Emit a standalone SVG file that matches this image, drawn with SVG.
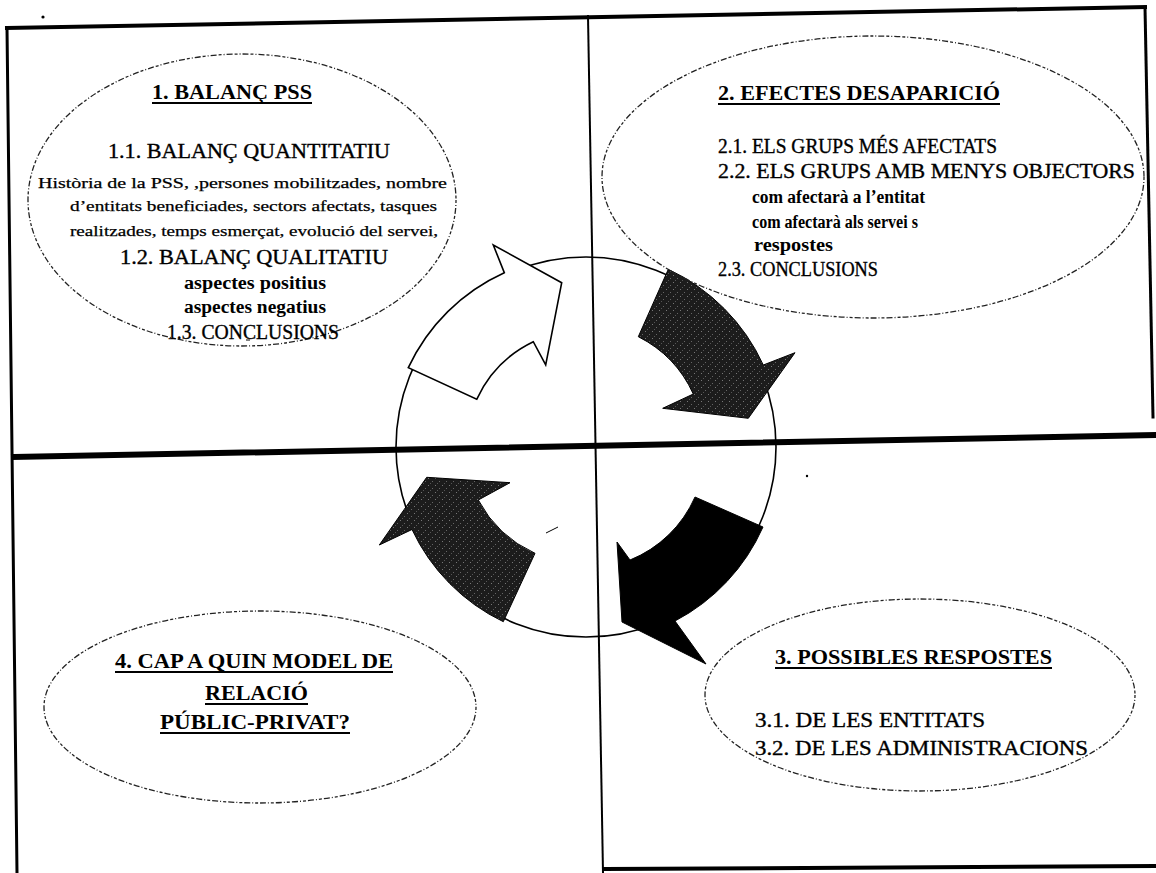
<svg xmlns="http://www.w3.org/2000/svg" width="1156" height="873" viewBox="0 0 1156 873">
<defs>
  <pattern id="grain" width="7" height="7" patternUnits="userSpaceOnUse">
    <rect width="7" height="7" fill="#1c1c1c"/>
    <rect x="1" y="2" width="1" height="1" fill="#777"/>
    <rect x="5" y="5" width="1" height="1" fill="#666"/>
    <rect x="3" y="0" width="1" height="1" fill="#555"/>
  </pattern>
</defs>
<style>
  .frame { stroke: #000; fill: none; stroke-linecap: square; }
  .oval { fill: none; stroke: #222; stroke-width: 1.3; stroke-dasharray: 3 2 1 2 6 2; }
  .t { font-family: "Liberation Serif", "Times New Roman", serif; fill: #000; }
  .h { font-weight: bold; font-size: 20px; }
  .big { font-size: 20px; stroke: #000; stroke-width: 0.35; }
  .sm { font-size: 15px; stroke: #000; stroke-width: 0.25; }
  .b { font-weight: bold; font-size: 18px; }
  .ul { stroke: #000; stroke-width: 1.8; }
  .ring { fill: none; stroke: #000; stroke-width: 1.6; }
  .arr-w { fill: #fff; stroke: #000; stroke-width: 1.6; stroke-linejoin: miter; }
  .arr-d { fill: url(#grain); stroke: #000; stroke-width: 1; }
  .arr-k { fill: #000; stroke: #000; stroke-width: 1; }
  .speck { fill: #000; }
</style>
<rect width="1156" height="873" fill="#fff"/>

<g id="frame">
  <line class="frame" x1="7" y1="28" x2="1145" y2="7" stroke-width="4"/>
  <line class="frame" x1="7" y1="28" x2="17" y2="873" stroke-width="3"/>
  <line class="frame" x1="1145" y1="7" x2="1153" y2="417" stroke-width="3"/>
  <line class="frame" x1="14" y1="457" x2="1156" y2="435" stroke-width="6"/>
  <line class="frame" x1="588" y1="16" x2="603" y2="873" stroke-width="2"/>
  <line class="frame" x1="605" y1="869" x2="1156" y2="866" stroke-width="4"/>
</g>

<g id="cycle">
  <circle class="ring" cx="586" cy="447" r="190"/>
</g>

<g id="connectors">
  <path id="arrow-1-2" class="arr-w" d="M408.3,367.7 A194,194 0 0 1 504.3,272.7 L493.3,245 L561.7,282.7 L545.7,365 L533.3,341.7 A119,119 0 0 0 476.7,399.3 Z"/>
  <path id="arrow-2-3" class="arr-d" d="M668.3,269.3 A195,195 0 0 1 763.3,365 L795,352.7 L748.3,418.3 L662.7,408.3 L693.3,394 A120,120 0 0 0 638.3,336.7 Z"/>
  <path id="arrow-3-4" class="arr-k" d="M695,497 L763,527 A195,195 0 0 1 675,621 L706,664 L622,622 L617,542 L630,560 A120,120 0 0 0 695,497 Z"/>
  <path id="arrow-4-1" class="arr-d" d="M535,553.3 L503.3,621.7 A193,193 0 0 1 412,529.5 L379.3,545 L426.7,477.3 L510,482.7 L478.3,500 A120,120 0 0 0 535,553.3 Z"/>
</g>

<g id="node-1-balanc">
  <ellipse class="oval" cx="242" cy="200" rx="214" ry="146"/>
  <text class="t h" x="152" y="99" textLength="160" lengthAdjust="spacingAndGlyphs">1. BALANÇ PSS</text>
  <line class="ul" x1="152" y1="103" x2="312" y2="103"/>
  <text class="t big" x="108" y="158" textLength="282" lengthAdjust="spacingAndGlyphs">1.1. BALANÇ QUANTITATIU</text>
  <text class="t sm" x="38" y="188" textLength="409" lengthAdjust="spacingAndGlyphs">Història de la PSS, ,persones mobilitzades, nombre</text>
  <text class="t sm" x="70" y="211" textLength="367" lengthAdjust="spacingAndGlyphs">d’entitats beneficiades, sectors afectats,  tasques</text>
  <text class="t sm" x="70" y="236" textLength="368" lengthAdjust="spacingAndGlyphs">realitzades, temps esmerçat, evolució del servei,</text>
  <text class="t big" x="120" y="264" textLength="268" lengthAdjust="spacingAndGlyphs">1.2. BALANÇ QUALITATIU</text>
  <text class="t b" x="184" y="289" textLength="142" lengthAdjust="spacingAndGlyphs">aspectes positius</text>
  <text class="t b" x="184" y="313" textLength="142" lengthAdjust="spacingAndGlyphs">aspectes negatius</text>
  <text class="t big" x="167" y="339" textLength="172" lengthAdjust="spacingAndGlyphs">1.3. CONCLUSIONS</text>
</g>

<g id="node-2-efectes">
  <ellipse class="oval" cx="873" cy="177" rx="271" ry="141"/>
  <text class="t h" x="718" y="100" textLength="282" lengthAdjust="spacingAndGlyphs">2. EFECTES  DESAPARICIÓ</text>
  <line class="ul" x1="718" y1="104" x2="1000" y2="104"/>
  <text class="t big" x="718" y="153" textLength="279" lengthAdjust="spacingAndGlyphs">2.1. ELS GRUPS MÉS AFECTATS</text>
  <text class="t big" x="718" y="178" textLength="417" lengthAdjust="spacingAndGlyphs">2.2. ELS GRUPS AMB MENYS OBJECTORS</text>
  <text class="t b" x="752" y="203" textLength="173" lengthAdjust="spacingAndGlyphs">com afectarà a l’entitat</text>
  <text class="t b" x="752" y="228" textLength="166" lengthAdjust="spacingAndGlyphs">com afectarà als servei s</text>
  <text class="t b" x="754" y="251" textLength="79" lengthAdjust="spacingAndGlyphs">respostes</text>
  <text class="t big" x="718" y="276" textLength="160" lengthAdjust="spacingAndGlyphs">2.3. CONCLUSIONS</text>
</g>

<g id="node-3-respostes">
  <ellipse class="oval" cx="920" cy="695" rx="215" ry="96"/>
  <text class="t h" x="775" y="664" textLength="277" lengthAdjust="spacingAndGlyphs">3. POSSIBLES RESPOSTES</text>
  <line class="ul" x1="775" y1="668" x2="1052" y2="668"/>
  <text class="t big" x="755" y="727" textLength="230" lengthAdjust="spacingAndGlyphs">3.1. DE LES ENTITATS</text>
  <text class="t big" x="755" y="755" textLength="333" lengthAdjust="spacingAndGlyphs">3.2. DE LES ADMINISTRACIONS</text>
</g>

<g id="node-4-model">
  <ellipse class="oval" cx="260" cy="707" rx="216" ry="96"/>
  <text class="t h" x="115" y="668" textLength="278" lengthAdjust="spacingAndGlyphs">4. CAP A QUIN MODEL DE</text>
  <line class="ul" x1="115" y1="672" x2="393" y2="672"/>
  <text class="t h" x="205" y="700" textLength="103" lengthAdjust="spacingAndGlyphs">RELACIÓ</text>
  <line class="ul" x1="205" y1="704" x2="308" y2="704"/>
  <text class="t h" x="160" y="729" textLength="190" lengthAdjust="spacingAndGlyphs">PÚBLIC-PRIVAT?</text>
  <line class="ul" x1="160" y1="733" x2="350" y2="733"/>
</g>

<g id="specks">
  <circle class="speck" cx="43" cy="17" r="1.6"/>
  <line x1="546" y1="533" x2="558" y2="527" stroke="#000" stroke-width="1"/>
  <line x1="246" y1="340" x2="250" y2="340" stroke="#000" stroke-width="1"/>
  <circle class="speck" cx="807" cy="476" r="1.2"/>
</g>
</svg>
